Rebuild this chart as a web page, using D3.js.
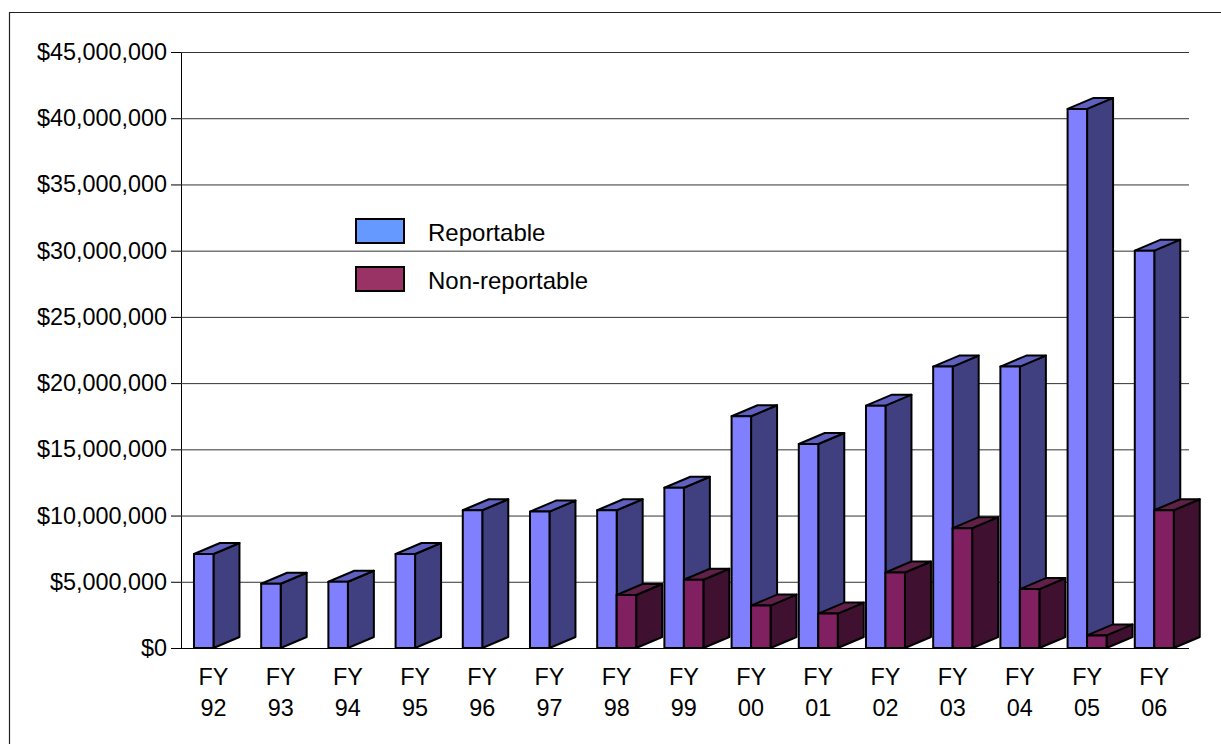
<!DOCTYPE html>
<html>
<head>
<meta charset="utf-8">
<script src="https://cdn.jsdelivr.net/npm/d3@7"></script>
<style>
  html, body { margin: 0; padding: 0; background: #fff; }
  svg { display: block; }
  text { font-family: "Liberation Sans", Arial, sans-serif; fill: #000; }
</style>
</head>
<body>
<div id="chart"></div>
<script>
// values
const years = ["FY 92", "FY 93", "FY 94", "FY 95", "FY 96", "FY 97", "FY 98", "FY 99",
               "FY 00", "FY 01", "FY 02", "FY 03", "FY 04", "FY 05", "FY 06"];
const reportable = [7100000, 4850000, 5000000, 7100000, 10400000, 10300000, 10400000, 12100000,
                    17500000, 15400000, 18300000, 21250000, 21250000, 40700000, 30000000];
const nonReportable = [0, 0, 0, 0, 0, 0, 4000000, 5150000,
                       3200000, 2600000, 5700000, 9050000, 4450000, 950000, 10400000];
const seriesNames = ["Reportable", "Non-reportable"];
const yTicks = [0, 5000000, 10000000, 15000000, 20000000, 25000000, 30000000, 35000000, 40000000, 45000000];

const width = 1221;
const height = 744;
const margin = {left: 181, right: 32, bottom: 96, top: 52};

// depth of the fake 3d bars
const depthX = 26;
const depthY = 11;

// front, side, top
const colors = {
  "Reportable": {front: "#8080ff", side: "#404080", top: "#6060c0"},
  "Non-reportable": {front: "#802060", side: "#401030", top: "#602048"}
};
const legendColors = {"Reportable": "#6699ff", "Non-reportable": "#993366"};

const svg = d3.select("#chart")
  .append("svg")
  .attr("width", width)
  .attr("height", height)
  .attr("viewBox", [0, 0, width, height]);

// outer frame, only left and top show in the window
svg.append("path")
  .attr("d", `M9.5,${height} V12.5 H${width}`)
  .attr("fill", "none")
  .attr("stroke", "#222")
  .attr("stroke-width", 1.2);

const yScale = d3.scaleLinear()
  .domain([0, 45000000])
  .range([height - margin.bottom, margin.top]);

const xScale = d3.scaleBand()
  .domain(years)
  .range([margin.left, width - margin.right])
  .paddingInner(0.42)
  .paddingOuter(0.21)
  .align(0.46);

const xSeries = d3.scaleBand()
  .domain(seriesNames)
  .range([0, xScale.bandwidth()]);

// y axis with gridlines
const yAxis = svg.append("g")
  .attr("transform", `translate(${margin.left}, 0)`)
  .call(d3.axisLeft(yScale)
    .tickValues(yTicks)
    .tickSize(10)
    .tickFormat(d3.format("$,.0f")));
yAxis.selectAll("text")
  .attr("x", -14)
  .attr("font-size", "23.4px");
yAxis.selectAll("path").attr("stroke", "#000");

svg.append("g")
  .attr("transform", `translate(${margin.left}, 0)`)
  .call(d3.axisLeft(yScale).tickValues(yTicks).tickSize(-(width - margin.left - margin.right)).tickFormat(""))
  .call(g => g.select(".domain").remove())
  .selectAll("line")
  .attr("stroke", "#333");

// x axis, labels broken on two lines
const xAxis = svg.append("g")
  .attr("transform", `translate(0,${height - margin.bottom})`)
  .call(d3.axisBottom(xScale).tickSize(0));
xAxis.select(".domain").attr("d", `M${margin.left},0.5 H${width - margin.right}`);
xAxis.selectAll("text").each(function(d) {
  const parts = d.split(" ");
  const t = d3.select(this).text(null).attr("font-size", "23.4px").attr("y", 0).attr("dy", null);
  t.append("tspan").attr("x", 0).attr("y", 37).text(parts[0]);
  t.append("tspan").attr("x", 0).attr("y", 68).text(parts[1]);
});

// one bar = front, side and top polygon
function drawBar(g, name, year, value) {
  if (value === 0) return;
  const x0 = xScale(year) + xSeries(name);
  const x1 = x0 + xSeries.bandwidth();
  const y0 = yScale(0);
  const y1 = yScale(value);
  const c = colors[name];
  g.append("path")
    .attr("d", `M${x1},${y0} L${x1 + depthX},${y0 - depthY} L${x1 + depthX},${y1 - depthY} L${x1},${y1} Z`)
    .attr("fill", c.side);
  g.append("path")
    .attr("d", `M${x0},${y1} L${x0 + depthX},${y1 - depthY} L${x1 + depthX},${y1 - depthY} L${x1},${y1} Z`)
    .attr("fill", c.top);
  g.append("rect")
    .attr("x", x0)
    .attr("y", y1)
    .attr("width", x1 - x0)
    .attr("height", y0 - y1)
    .attr("fill", c.front);
}

const bars = svg.append("g")
  .attr("stroke", "#000")
  .attr("stroke-width", 2)
  .attr("stroke-linejoin", "round");

years.forEach((year, i) => {
  drawBar(bars, "Reportable", year, reportable[i]);
  drawBar(bars, "Non-reportable", year, nonReportable[i]);
});

// legend
const legend = svg.selectAll(".legend")
  .data(seriesNames)
  .enter()
  .append("g")
  .attr("class", "legend")
  .attr("transform", (d, i) => `translate(356, ${219 + i * 48})`);

legend.append("rect")
  .attr("width", 48)
  .attr("height", 24)
  .attr("fill", d => legendColors[d])
  .attr("stroke", "#000")
  .attr("stroke-width", 2);

legend.append("text")
  .attr("x", 72)
  .attr("y", 22)
  .attr("font-size", "24px")
  .text(d => d);
</script>
</body>
</html>
